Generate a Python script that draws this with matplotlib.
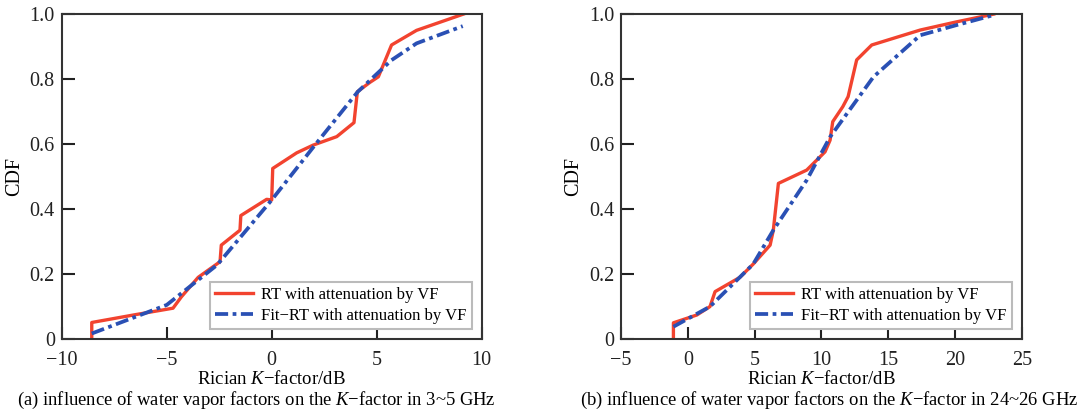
import numpy as np
import matplotlib
matplotlib.use("Agg")
import matplotlib.pyplot as plt
from matplotlib.ticker import FuncFormatter

plt.rcParams['font.family'] = ['Liberation Serif', 'DejaVu Serif']
plt.rcParams['mathtext.fontset'] = 'custom'
plt.rcParams['mathtext.it'] = 'Liberation Serif:italic'
plt.rcParams['mathtext.rm'] = 'Liberation Serif'

# panel (a): 3~5 GHz
rt_a_x = [-8.57, -8.57, -6.5, -4.7, -4.3, -3.5, -2.46, -2.4, -1.51, -1.47, -0.24, 0.0, 0.05,
          1.19, 1.98, 3.1, 3.92, 4.08, 4.68, 5.08, 5.71, 6.9, 9.13]
rt_a_y = [0.0, 0.051, 0.075, 0.095, 0.13, 0.19, 0.238, 0.289, 0.335, 0.38, 0.43, 0.428, 0.525,
          0.573, 0.597, 0.623, 0.666, 0.761, 0.79, 0.807, 0.905, 0.95, 1.0]
fit_a_x = [-8.57, -5.0, -2.6, 0.0, 2.0, 4.1, 5.7, 6.9, 9.1]
fit_a_y = [0.017, 0.105, 0.228, 0.428, 0.592, 0.761, 0.858, 0.91, 0.963]

# panel (b): 24~26 GHz
rt_b_x = [-1.08, -1.08, 0.67, 1.66, 2.04, 3.9, 4.9, 6.16, 6.4, 6.78, 8.9, 10.27, 10.65, 10.85,
          11.6, 12.0, 12.64, 13.77, 17.4, 20.1, 22.9]
rt_b_y = [0.0, 0.05, 0.074, 0.1, 0.146, 0.19, 0.231, 0.289, 0.335, 0.479, 0.52, 0.576, 0.612, 0.669,
          0.715, 0.746, 0.859, 0.905, 0.951, 0.976, 1.0]
fit_b_x = [-1.08, 1.66, 4.9, 6.4, 8.9, 10.65, 13.9, 17.4, 20.1, 22.9]
fit_b_y = [0.038, 0.1, 0.231, 0.335, 0.489, 0.622, 0.807, 0.935, 0.966, 0.997]

RED = '#f2432f'
BLUE = '#2a50b4'


def yfmt(v, pos):
    if abs(v) < 1e-9:
        return "0"
    return "%.1f" % v


def xfmt(v, pos):
    return ("%d" % v).replace("-", "\u2212")


def draw(ax, rx, ry, fx, fy, xlim, xticks):
    ax.plot(rx, ry, color=RED, lw=2.4, label="RT with attenuation by VF")
    ax.plot(fx, fy, color=BLUE, lw=2.7, linestyle=(0, (3.5, 1.2, 1, 1.2)),
            label="Fit\u2212RT with attenuation by VF")
    ax.set_xlim(xlim)
    ax.set_ylim(0, 1)
    ax.set_xticks(xticks)
    ax.set_yticks([0, 0.2, 0.4, 0.6, 0.8, 1.0])
    ax.xaxis.set_major_formatter(FuncFormatter(xfmt))
    ax.yaxis.set_major_formatter(FuncFormatter(yfmt))
    ax.tick_params(direction='in', length=9, width=1.5, labelsize=14.5, colors='#222222')
    ax.tick_params(axis='x', pad=8.5)
    ax.tick_params(axis='y', pad=5)
    for s in ax.spines.values():
        s.set_linewidth(1.5)
        s.set_color('#333333')
    ax.set_xlabel("Rician $K$\u2212factor/dB", fontsize=13.5, labelpad=0)
    ax.set_ylabel("CDF", fontsize=14.5, labelpad=4)
    leg = ax.legend(loc='lower right', fontsize=12, fancybox=False, handlelength=2.3,
                    handletextpad=0.5, borderpad=0.3, labelspacing=0.3,
                    borderaxespad=0.6, framealpha=1)
    leg.get_frame().set_edgecolor('#bbbbbb')
    leg.get_frame().set_linewidth(1.5)


fig = plt.figure(figsize=(10.85, 4.15), dpi=100)
ax1 = fig.add_axes([0.0569, 0.183, 0.387, 0.783])
ax2 = fig.add_axes([0.5724, 0.183, 0.3693, 0.783])

draw(ax1, rt_a_x, rt_a_y, fit_a_x, fit_a_y, (-10, 10), [-10, -5, 0, 5, 10])
draw(ax2, rt_b_x, rt_b_y, fit_b_x, fit_b_y, (-5, 25), [-5, 0, 5, 10, 15, 20, 25])

fig.text(0.236, 0.034, "(a) influence of water vapor factors on the $K$\u2212factor in 3~5 GHz",
         ha='center', va='center', fontsize=13.4)
fig.text(0.764, 0.034, "(b) influence of water vapor factors on the $K$\u2212factor in 24~26 GHz",
         ha='center', va='center', fontsize=13.4)

fig.savefig("out.png", dpi=100)
